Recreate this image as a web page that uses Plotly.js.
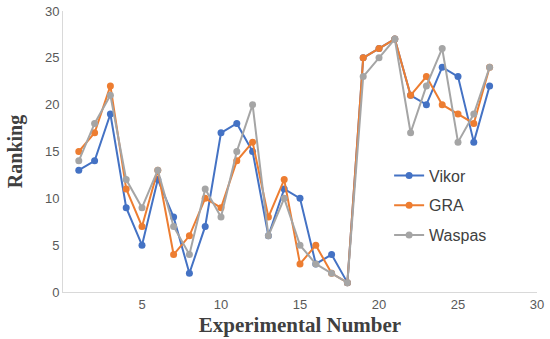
<!DOCTYPE html>
<html>
<head>
<meta charset="utf-8">
<script src="https://cdn.plot.ly/plotly-3.0.1.min.js"></script>
<style>html,body{margin:0;padding:0;background:#fff;}#chart{width:550px;height:339px;}</style>
</head>
<body>
<div id="chart"></div>
<script>
const experiments = [1,2,3,4,5,6,7,8,9,10,11,12,13,14,15,16,17,18,19,20,21,22,23,24,25,26,27];
const vikor  = [13,14,19,9,5,12,8,2,7,17,18,15,6,11,10,3,4,1,25,26,27,21,20,24,23,16,22];
const gra    = [15,17,22,11,7,13,4,6,10,9,14,16,8,12,3,5,2,1,25,26,27,21,23,20,19,18,24];
const waspas = [14,18,21,12,9,13,7,4,11,8,15,20,6,10,5,3,2,1,23,25,27,17,22,26,16,19,24];
const seriesNames = ['Vikor','GRA','Waspas'];
const colors = ['#4472C4','#ED7D31','#A5A5A5'];
const xTicks = [5,10,15,20,25,30];
const yTicks = [0,5,10,15,20,25,30];

const data = [vikor, gra, waspas].map((ys, i) => ({
  x: experiments, y: ys, name: seriesNames[i], type: 'scatter', mode: 'lines+markers',
  legendgroup: 'g' + i,
  line: {color: colors[i], width: 2},
  marker: {color: colors[i], size: 7}
}));

const layout = {
  width: 550, height: 339,
  margin: {l: 63, r: 13, t: 11, b: 47},
  paper_bgcolor: '#fff', plot_bgcolor: '#fff',
  showlegend: true,
  legend: {x: 0.688, y: 0.475, xanchor: 'left', yanchor: 'top', bgcolor: 'rgba(0,0,0,0)',
           font: {family: 'Liberation Sans, Arial, sans-serif', size: 16, color: '#404040'},
           tracegroupgap: 6, traceorder: 'grouped'},
  xaxis: {range: [0, 30], tickvals: xTicks, ticktext: xTicks.map(String), showgrid: false, zeroline: false,
          showline: true, linecolor: '#D9D9D9', linewidth: 1, ticks: '',
          tickfont: {family: 'Liberation Sans, Arial, sans-serif', size: 13, color: '#595959'},
          title: {text: 'Experimental Number', standoff: 6,
                  font: {family: 'Liberation Serif, Times New Roman, serif', size: 21, color: '#404040', weight: 'bold'}}},
  yaxis: {range: [0, 30], tickvals: yTicks, ticktext: yTicks.map(String), showgrid: false, zeroline: false,
          showline: true, linecolor: '#D9D9D9', linewidth: 1, ticks: '',
          tickfont: {family: 'Liberation Sans, Arial, sans-serif', size: 13, color: '#595959'},
          title: {text: 'Ranking', standoff: 16,
                  font: {family: 'Liberation Serif, Times New Roman, serif', size: 20, color: '#404040', weight: 'bold'}}}
};

Plotly.newPlot('chart', data, layout, {displayModeBar: false, staticPlot: true});
</script>
</body>
</html>
